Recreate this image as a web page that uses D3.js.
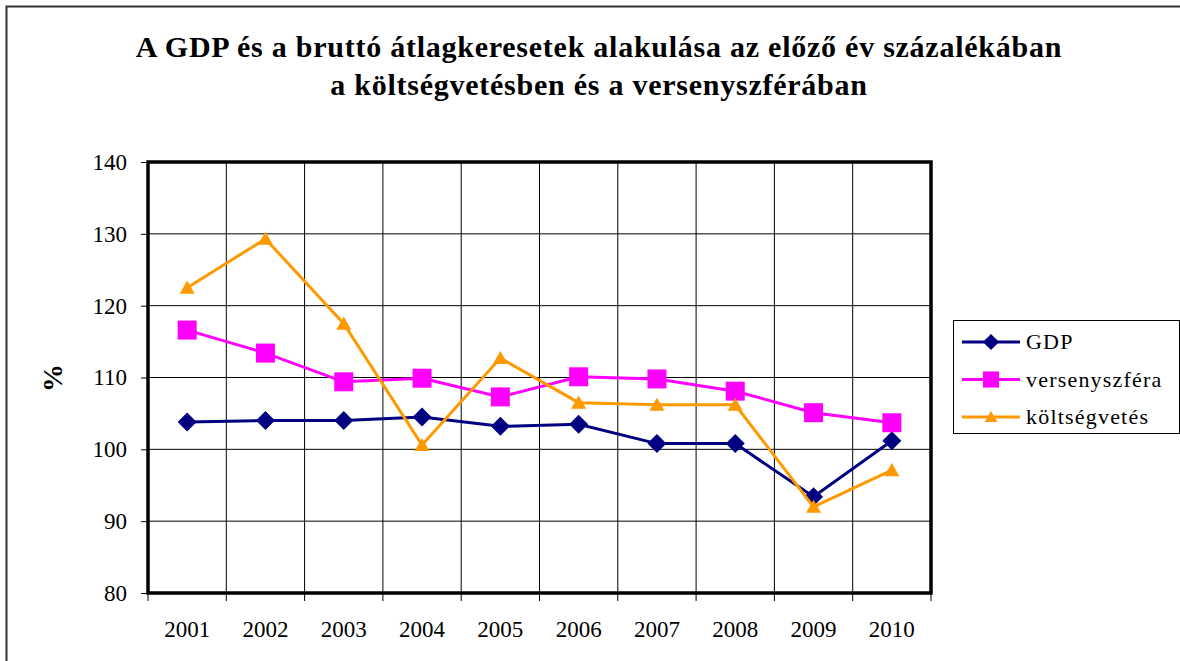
<!DOCTYPE html>
<html><head><meta charset="utf-8">
<script src="https://cdn.jsdelivr.net/npm/d3@7"></script>
<style>body{margin:0;background:#fff}svg{display:block}svg text{font-family:"Liberation Serif","Times New Roman","DejaVu Serif",serif !important}</style>
</head><body><svg id="c" width="1180" height="661"></svg>
<script>
const years = ["2001","2002","2003","2004","2005","2006","2007","2008","2009","2010"];
const gdp = [103.8,104.0,104.0,104.5,103.2,103.5,100.8,100.8,93.4,101.2];
const verseny = [116.6,113.4,109.4,109.9,107.3,110.1,109.8,108.1,105.1,103.7];
const koltseg = [122.5,129.3,117.5,100.6,112.7,106.5,106.2,106.2,92.0,97.1];
const yTicks = [80,90,100,110,120,130,140];
const titleLines = ["A GDP és a bruttó átlagkeresetek alakulása az előző év százalékában","a költségvetésben és a versenyszférában"];

function marker(type, s){
  const h=s/2;
  if(type==="diamond") return `M0,${-h}L${h},0L0,${h}L${-h},0Z`;
  if(type==="square") return `M${-h},${-h}H${h}V${h}H${-h}Z`;
  return `M0,${-h*0.95}L${h},${h*0.8}L${-h},${h*0.8}Z`;
}
const series = [
  {name:"GDP", values:gdp, color:"#000080", type:"diamond", size:19},
  {name:"versenyszféra", values:verseny, color:"#FF00FF", type:"square", size:19},
  {name:"költségvetés", values:koltseg, color:"#FF9900", type:"triangle", size:15}
];

const svg = d3.select("#c");
const L=148,R=931,T=162,B=593;
svg.append("rect").attr("x",6.5).attr("y",6.5).attr("width",1180).attr("height",670)
  .attr("fill","none").attr("stroke","#333").attr("stroke-width",2);

const x = d3.scaleBand().domain(years).range([L,R]);
const y = d3.scaleLinear().domain([80,140]).range([B,T]);

svg.append("g").selectAll("line").data(yTicks).join("line")
  .attr("x1",L).attr("x2",R).attr("y1",d=>y(d)).attr("y2",d=>y(d))
  .attr("stroke","#000").attr("stroke-width",1);
svg.append("g").selectAll("line").data(years.slice(1)).join("line")
  .attr("x1",d=>x(d)).attr("x2",d=>x(d)).attr("y1",T).attr("y2",B)
  .attr("stroke","#000").attr("stroke-width",1);

const ya = svg.append("g").attr("transform",`translate(${L},0)`)
  .call(d3.axisLeft(y).tickValues(yTicks).tickSize(7).tickPadding(14).tickFormat(d3.format("d")));
ya.attr("font-family",null);
ya.select(".domain").remove();
ya.selectAll("text").attr("font-size",23).attr("fill","#000");
const xa = svg.append("g").attr("transform",`translate(0,${B})`)
  .call(d3.axisBottom(x).tickSize(0).tickPadding(28));
xa.attr("font-family",null);
xa.select(".domain").remove();
xa.selectAll("text").attr("font-size",23).attr("fill","#000");
svg.append("g").selectAll("line").data(d3.range(years.length+1)).join("line")
  .attr("x1",i=>i<years.length?x(years[i]):R).attr("x2",i=>i<years.length?x(years[i]):R)
  .attr("y1",B).attr("y2",B+8).attr("stroke","#000").attr("stroke-width",1);

svg.append("rect").attr("x",L).attr("y",T).attr("width",R-L).attr("height",B-T)
  .attr("fill","none").attr("stroke","#000").attr("stroke-width",3.5);

const cx = d=>x(d)+x.bandwidth()/2;
series.forEach(s=>{
  const line = d3.line().x((d,i)=>cx(years[i])).y(d=>y(d));
  svg.append("path").datum(s.values).attr("d",line).attr("fill","none")
    .attr("stroke",s.color).attr("stroke-width",3);
  svg.append("g").selectAll("path").data(s.values).join("path")
    .attr("transform",(d,i)=>`translate(${cx(years[i])},${y(d)})`)
    .attr("d",marker(s.type,s.size)).attr("fill",s.color);
});

svg.append("g").selectAll("text").data(titleLines).join("text")
  .attr("x",599).attr("y",(d,i)=>57+i*38).attr("text-anchor","middle")
  .attr("font-size",30).attr("font-weight","bold").attr("letter-spacing",0.75).text(d=>d);

svg.append("text").attr("transform","translate(62,378) rotate(-90)")
  .attr("text-anchor","middle").attr("font-size",28).attr("font-weight","bold")
  .text("%");

const lg = svg.append("g");
lg.append("rect").attr("x",953.5).attr("y",320.5).attr("width",226).attr("height",113)
  .attr("fill","#fff").attr("stroke","#000").attr("stroke-width",1);
series.forEach((s,i)=>{
  const yy = 342 + i*37.5;
  lg.append("line").attr("x1",962).attr("x2",1020).attr("y1",yy).attr("y2",yy)
    .attr("stroke",s.color).attr("stroke-width",3);
  lg.append("path").attr("transform",`translate(991,${yy})`)
    .attr("d",marker(s.type,s.size*0.85)).attr("fill",s.color);
  lg.append("text").attr("x",1026).attr("y",yy+7).attr("font-size",22).attr("letter-spacing",1.2).text(s.name);
});
</script></body></html>
